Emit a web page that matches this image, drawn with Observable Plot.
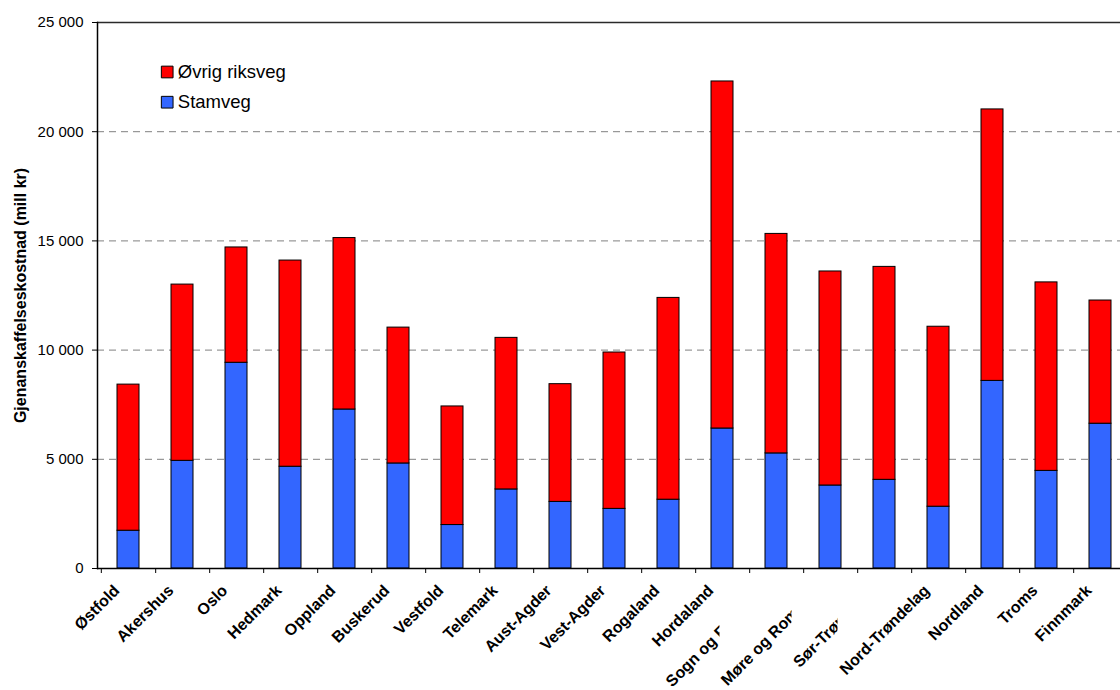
<!DOCTYPE html>
<html>
<head>
<meta charset="utf-8">
<script src="https://cdn.jsdelivr.net/npm/d3@7"></script>
<script src="https://cdn.jsdelivr.net/npm/@observablehq/plot@0.6"></script>
<style>
  html, body { margin: 0; padding: 0; background: #fff; overflow: hidden; }
  #chart { width: 1120px; height: 690px; overflow: hidden; }
  #chart svg { max-width: none !important; width: 1140px; height: 690px; }
</style>
</head>
<body>
<div id="chart"></div>
<script>
// Counties (fylker)
const regions = ["Østfold", "Akershus", "Oslo", "Hedmark", "Oppland", "Buskerud", "Vestfold",
  "Telemark", "Aust-Agder", "Vest-Agder", "Rogaland", "Hordaland", "Sogn og Fjordane",
  "Møre og Romsdal", "Sør-Trøndelag", "Nord-Trøndelag", "Nordland", "Troms", "Finnmark"];

// Replacement cost, mill kr
const stamveg = [1730, 4930, 9420, 4660, 7280, 4810, 1990, 3620, 3050, 2730, 3150,
  6410, 5270, 3800, 4060, 2830, 8590, 4470, 6630];
const ovrigRiksveg = [6690, 8070, 5280, 9440, 7850, 6220, 5430, 6940, 5390, 7160, 9240,
  15890, 10050, 9800, 9750, 8240, 12430, 8630, 5640];

const seriesNames = ["Stamveg", "Øvrig riksveg"];
const seriesColors = ["#3366ff", "#ff0000"];
const legendOrder = ["Øvrig riksveg", "Stamveg"];
const yTicks = [0, 5000, 10000, 15000, 20000, 25000];
const yTitle = "Gjenanskaffelseskostnad (mill kr)";

// Long labels are cut off at a vertical edge (px left of the band centre)
const labelCutoff = {"Sogn og Fjordane": -57, "Møre og Romsdal": -39, "Sør-Trøndelag": -47};

const rows = regions.flatMap((r, i) => [
  {region: r, type: "Stamveg", value: stamveg[i]},
  {region: r, type: "Øvrig riksveg", value: ovrigRiksveg[i]}
]);

const width = 1140, marginLeft = 97, marginRight = 10;
const step = (width - marginLeft - marginRight) / regions.length;
const labelDx = -8, labelDy = 23;
const fmt = d => d3.format(",")(d).replace(/,/g, " ");
const font = "'Liberation Sans', Arial, sans-serif";

const plot = Plot.plot({
  width,
  height: 690,
  marginLeft,
  marginRight,
  marginTop: 22,
  marginBottom: 122,
  style: {fontFamily: font, fontSize: "15px", background: "#fff", overflow: "visible", maxWidth: "none"},
  x: {domain: regions, paddingInner: 0.6, paddingOuter: 0.3, label: null},
  y: {domain: [0, 25000], label: null},
  color: {domain: seriesNames, range: seriesColors},
  marks: [
    Plot.gridY({ticks: yTicks.slice(1, -1), stroke: "#808080", strokeOpacity: 1, strokeDasharray: "7,5"}),
    Plot.ruleY([25000], {stroke: "#2a2a2a", strokeWidth: 1.5}),
    Plot.barY(rows, Plot.stackY({x: "region", y: "value", fill: "type", stroke: "black", strokeWidth: 1, inset: 0})),
    Plot.ruleY([0], {stroke: "black", strokeWidth: 1.5}),
    Plot.frame({anchor: "left", stroke: "black", strokeWidth: 1.5}),
    Plot.axisY({ticks: yTicks, tickFormat: fmt, tickSize: 5, tickPadding: 9, fontSize: 15, label: null}),
    Plot.axisX({tickSize: 5, tickFormat: () => "", dx: step / 2, label: null}),
    Plot.axisX({ticks: [regions[0]], tickSize: 5, tickFormat: () => "", dx: -step / 2, label: null}),
    Plot.text(regions, {
      x: d => d, text: d => d, frameAnchor: "bottom", dx: labelDx, dy: labelDy, rotate: -45,
      textAnchor: "end", lineAnchor: "bottom", fontSize: 16, fontWeight: "bold", fill: "black"
    }),
    Plot.text([yTitle], {
      frameAnchor: "left", dx: -77, dy: 0, rotate: -90, text: d => d,
      textAnchor: "middle", lineAnchor: "middle", fontSize: 16, fontWeight: "bold", fill: "black"
    }),
    ...legendOrder.flatMap((s, i) => [
      Plot.dot([s], {frameAnchor: "top-left", dx: 69.7, dy: 49.5 + i * 30.2, symbol: "square",
        r: 6.6, fill: d => d, stroke: "black", strokeWidth: 1}),
      Plot.text([s], {frameAnchor: "top-left", dx: 80.3, dy: 49.5 + i * 30.2, text: d => d,
        textAnchor: "start", lineAnchor: "middle", fontSize: 18.5, fill: "black"})
    ])
  ]
});

// Clip the long category labels at a vertical edge
const svg = d3.select(plot.tagName.toLowerCase() === "svg" ? plot : plot.querySelector("svg"));
const defs = svg.append("defs");
svg.selectAll("text").each(function(_, i) {
  const name = this.textContent;
  if (name in labelCutoff) {
    const id = "cut-" + i;
    defs.append("clipPath").attr("id", id).attr("clipPathUnits", "userSpaceOnUse")
      .append("rect").attr("transform", "rotate(45)")
      .attr("x", -1000).attr("y", -1000)
      .attr("width", 1000 + labelCutoff[name] - labelDx).attr("height", 2000);
    d3.select(this).attr("clip-path", `url(#${id})`);
  }
});

document.getElementById("chart").append(plot);
</script>
</body>
</html>
